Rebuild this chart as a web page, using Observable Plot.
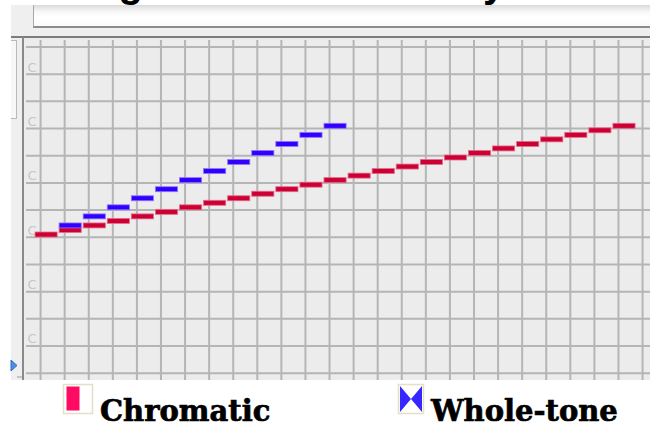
<!DOCTYPE html>
<html>
<head>
<meta charset="utf-8">
<script src="https://cdn.jsdelivr.net/npm/d3@7"></script>
<script src="https://cdn.jsdelivr.net/npm/@observablehq/plot@0.6"></script>
<style>
  body { margin: 0; background: #fff; }
  #wrap { position: relative; width: 650px; height: 426px; overflow: hidden; background: #fff; }
  #title { position: absolute; left: 0; top: 0; }
  #chrome { position: absolute; left: 11px; top: 5px; width: 639px; height: 32px; background: #efefef; }
  #textbox { position: absolute; left: 33px; top: 5px; width: 620px; height: 21px;
    border-left: 1px solid #a8a8a8; border-bottom: 2px solid #8c8c8c;
    background: linear-gradient(#d9d9d9 0%, #f6f6f6 30%, #ffffff 55%, #fbfbfb 100%); }
  #topline { position: absolute; left: 11px; top: 36px; width: 639px; height: 2px; background: #7d7d7d; }
  #leftpanel { position: absolute; left: 11px; top: 38px; width: 12px; height: 342px; background: #efefef; }
  #leftline { position: absolute; left: 22px; top: 37px; width: 2px; height: 343px; background: #8a8a8a; }
  #thumb { position: absolute; left: 11px; top: 40px; width: 5px; height: 77px; background: #f7f7f7;
    border: 1px solid #b9b9b9; border-left: none; }
  #chart { position: absolute; left: 24px; top: 38px; }
  #legend { position: absolute; left: 0; top: 380px; }
  .leglab { position: absolute; top: 396.5px; font-family: "DejaVu Serif"; font-weight: bold;
    font-size: 29px; line-height: 29px; color: #000; -webkit-text-stroke: 0.7px #000; white-space: nowrap; }
</style>
</head>
<body>
<div id="wrap">
  <svg id="title" width="650" height="6" style="overflow:hidden">
    <text x="-6" y="-3.5" font-family="Liberation Sans" font-weight="bold" font-size="40" fill="#000">Hearing the Scales Side by Side</text>
  </svg>
  <div id="chrome"></div>
  <div id="textbox"></div>
  <div id="topline"></div>
  <div id="leftpanel"></div>
  <div id="thumb"></div>
  <svg style="position:absolute;left:10px;top:359px" width="14" height="22">
    <path d="M1,1 L7,6.5 L1,12 Z" fill="#4a8fe0" stroke="#2f6fc4" stroke-width="1"/>
    <path d="M7,18 L12,18" stroke="#9a9a9a" stroke-width="1"/>
  </svg>
  <div id="leftline"></div>
  <div id="chart"></div>
  <svg id="legend" width="650" height="46">
    <rect x="63.5" y="4.5" width="29" height="29" fill="#ffffff" stroke="#e4dfc8" stroke-width="1.5"/>
    <rect x="66.5" y="6.5" width="13" height="24" fill="#ff0a62"/>
    <rect x="398.5" y="4.5" width="25" height="29" fill="#ffffff" stroke="#e4dfc8" stroke-width="1.5"/>
    <path d="M400,6 L400,32 L411,19 Z M422,6 L422,32 L411,19 Z" fill="#3626ff"/>
  </svg>
  <div class="leglab" style="left:100px">Chromatic</div>
  <div class="leglab" style="left:431px">Whole-tone</div>
</div>
<script>
// Note columns (time steps) and pitches in semitones above the starting C
const chromaticSteps   = [0, 1, 2, 3, 4, 5, 6, 7, 8, 9, 10, 11, 12, 13, 14, 15, 16, 17, 18, 19, 20, 21, 22, 23, 24];
const chromaticPitches = [0, 1, 2, 3, 4, 5, 6, 7, 8, 9, 10, 11, 12, 13, 14, 15, 16, 17, 18, 19, 20, 21, 22, 23, 24];
const wholeToneSteps   = [1, 2, 3, 4, 5, 6, 7, 8, 9, 10, 11, 12];
const wholeTonePitches = [2, 4, 6, 8, 10, 12, 14, 16, 18, 20, 22, 24];
// Row labels (every octave) and grid lines
const labelPitches = [-24, -12, 0, 12, 24, 36];
const labelTexts   = ["C", "C", "C", "C", "C", "C"];
const gridPitches  = [-30.5, -24.5, -18.5, -12.5, -6.5, -0.5, 5.5, 11.5, 17.5, 23.5, 29.5, 35.5, 41.5];
const gridSteps    = [0, 1, 2, 3, 4, 5, 6, 7, 8, 9, 10, 11, 12, 13, 14, 15, 16, 17, 18, 19, 20, 21, 22, 23, 24, 25];

const chromatic = chromaticSteps.map((s, i) => ({step: s, pitch: chromaticPitches[i]}));
const wholeTone = wholeToneSteps.map((s, i) => ({step: s, pitch: wholeTonePitches[i]}));
const labels = labelPitches.map((p, i) => ({pitch: p, text: labelTexts[i]}));

const noteOn = 0.21, noteOff = 0.71;

const chart = Plot.plot({
  width: 626,
  height: 342,
  margin: 0,
  x: {domain: [-0.668, 25.33], axis: null},
  y: {domain: [-32.12, 43.38], axis: null},
  style: {background: "#ececec", overflow: "visible"},
  marks: [
    Plot.ruleY(gridPitches, {stroke: "#b5b5b5", strokeWidth: 2, insetLeft: 2}),
    Plot.ruleX(gridSteps, {stroke: "#b5b5b5", strokeWidth: 2, insetTop: 2}),
    Plot.text(labels, {y: "pitch", text: "text", frameAnchor: "left", textAnchor: "start", dx: 3, dy: -4.5,
      fill: "#c6c6c6", fontSize: 13, fontFamily: "DejaVu Sans"}),
    Plot.rect(chromatic, {x1: d => d.step - noteOn, x2: d => d.step + noteOff,
      y1: d => d.pitch - 0.55, y2: d => d.pitch + 0.55,
      fill: "#cc0033", stroke: "#e86a8c", strokeWidth: 0.8}),
    Plot.rect(wholeTone, {x1: d => d.step - noteOn, x2: d => d.step + noteOff,
      y1: d => d.pitch - 0.55, y2: d => d.pitch + 0.55,
      fill: "#3300ff", stroke: "#8c78ff", strokeWidth: 0.8})
  ]
});
document.getElementById("chart").appendChild(chart);
</script>
</body>
</html>
